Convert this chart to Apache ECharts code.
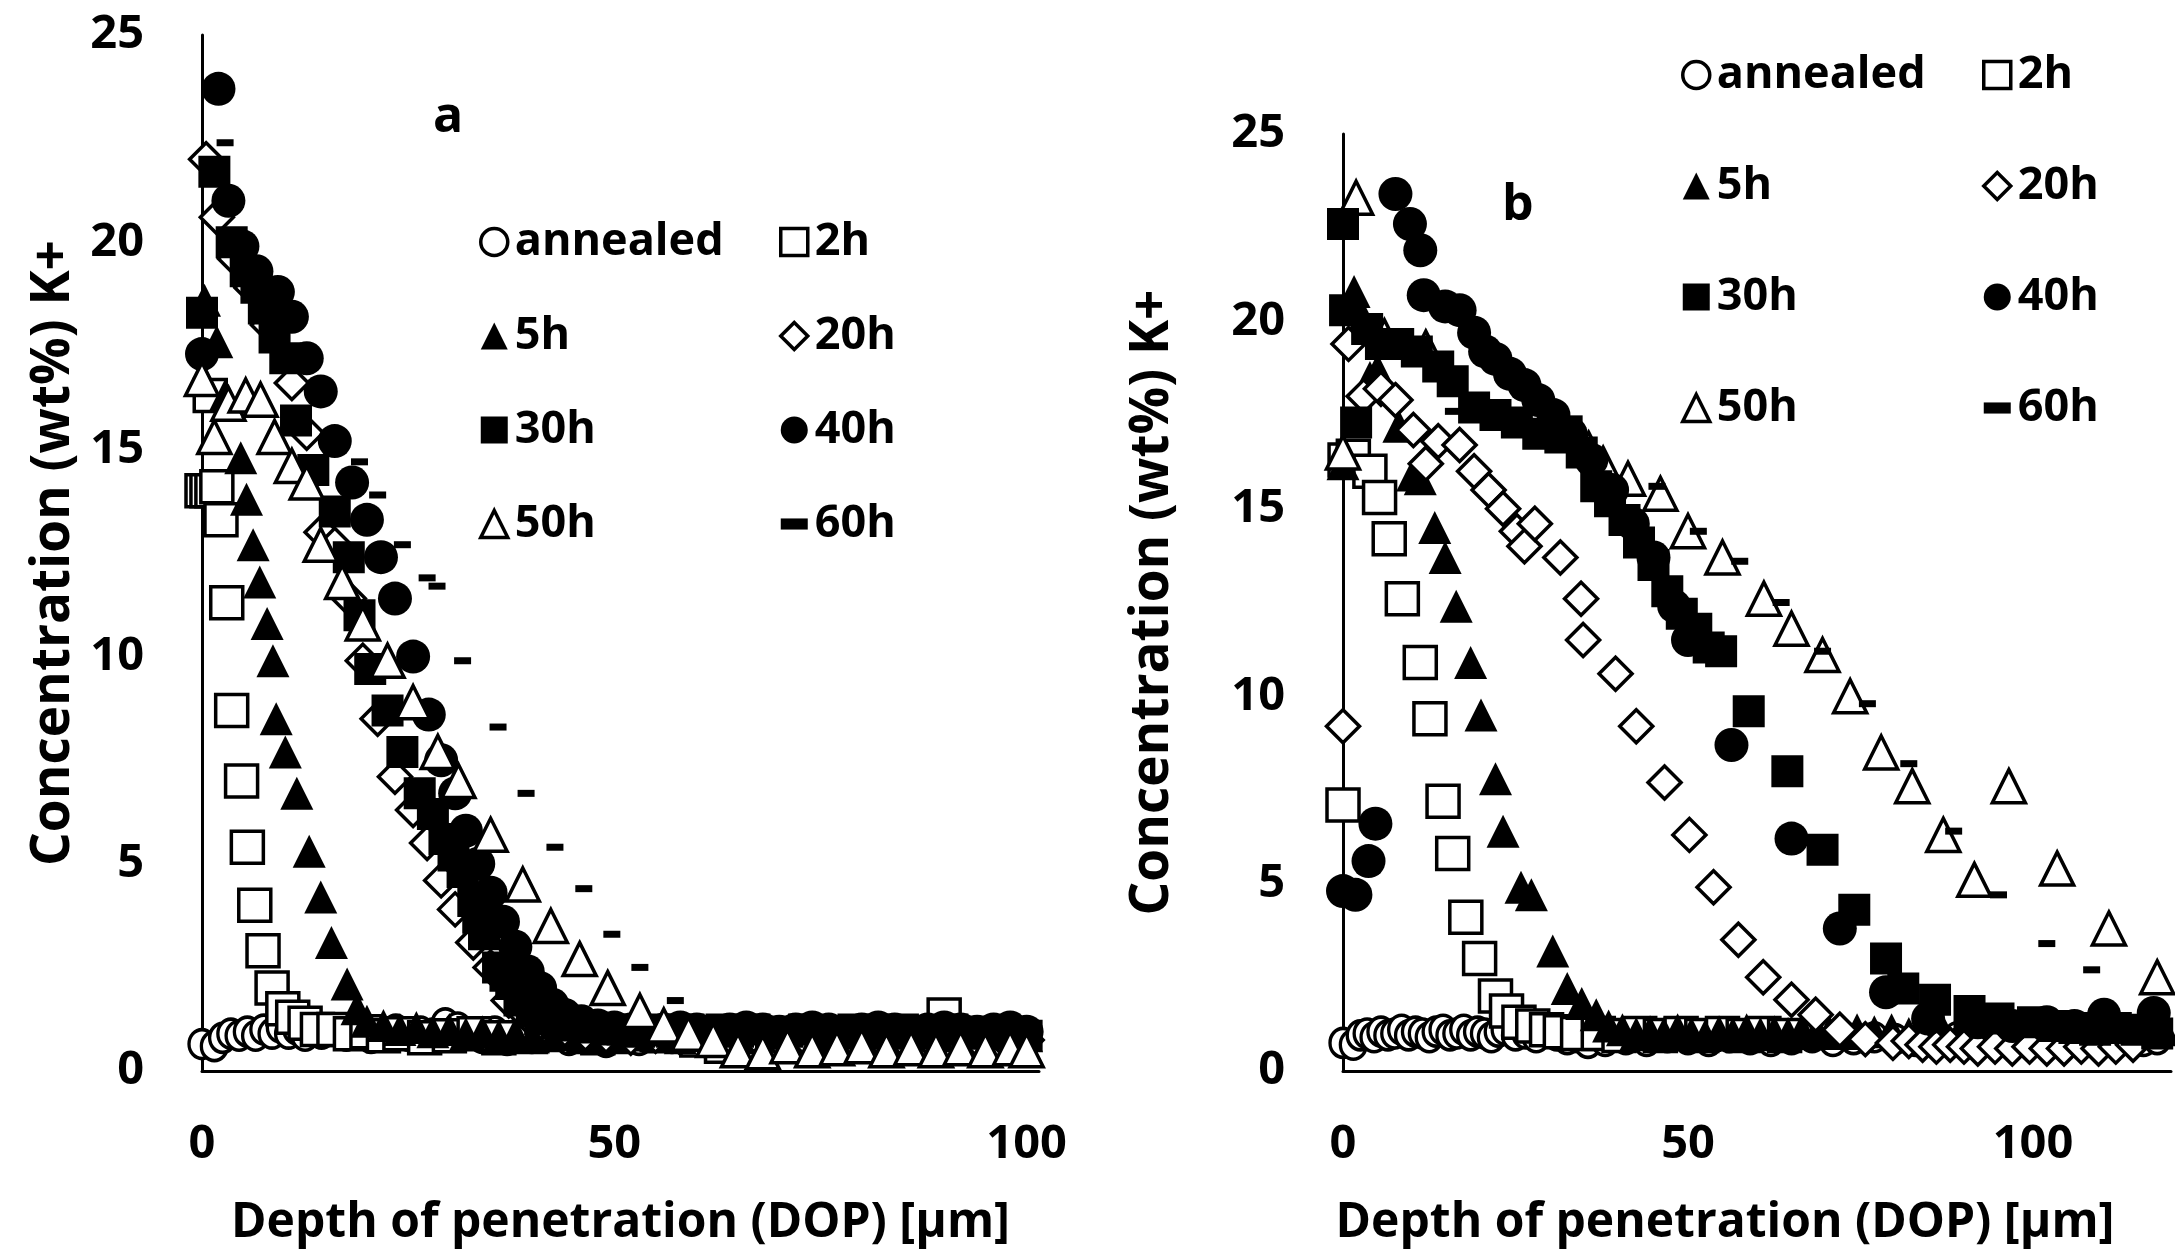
<!DOCTYPE html>
<html>
<head>
<meta charset="utf-8">
<script src="https://cdn.jsdelivr.net/npm/echarts@6/dist/echarts.min.js"></script>
<style>html,body{margin:0;padding:0;background:#fff;}#c{width:2175px;height:1259px;}</style>
</head>
<body>
<div id="c"></div>
<script>
// ---------- DATA ----------
const seriesNames = ['annealed','2h','5h','20h','30h','40h','50h','60h'];
const xTicksA = [0,50,100];
const xTicksB = [0,50,100];
const yTicks = [0,5,10,15,20,25];

// Panel a
const a_annealed = [[0,0.65],[1.5,0.6],[2.5,0.8],[3.5,0.9],[4.5,0.85],[5.5,0.95],[6.5,0.85],[7.5,1.0],[8.5,0.9],[9.5,1.05],[10.5,0.9],[11.5,1.0],[12.5,0.85],[13.5,0.95],[14.5,0.9],[16,1.0],[17.5,0.85],[19,0.95],[20.5,0.8],[22,0.9],[23.5,1.0],[25,0.85],[26.5,0.95],[28,0.9],[29.5,1.15],[31,1.05],[32.5,0.9],[34,0.8],[35.5,0.95],[37,0.75],[38.5,0.9],[40,0.8],[41.5,0.95],[43,0.85],[44.5,0.75],[46,0.9],[47.5,0.8],[49,0.7],[51,0.85],[53,0.75],[55,0.9],[57,0.8],[59,0.95],[61,0.7],[63,0.85],[65,0.9],[67,0.75],[69,0.85],[71,0.9],[73,0.7],[75,0.85],[77,0.9],[79,0.75],[81,0.85],[83,0.9],[85,0.8],[87,0.95],[89,0.75],[91,0.85],[93,0.9],[95,0.8],[97,0.85],[99,0.75],[100,0.7]];
const a_2h = [[0,14.0],[0.6,14.0],[1.2,14.0],[1.8,14.1],[1.0,16.3],[2.3,13.3],[3.0,11.3],[3.6,8.7],[4.8,7.0],[5.5,5.4],[6.4,4.0],[7.4,2.9],[8.5,2.0],[9.8,1.5],[11,1.3],[12.5,1.15],[14,1.0],[16,1.0],[18,0.9],[20,0.95],[22,0.85],[24,0.9],[27,0.8],[30,0.85],[33,0.9],[36,0.8],[40,0.85],[44,0.9],[48,0.8],[52,0.9],[56,0.85],[60,0.75],[63,0.6],[66,0.55],[69,0.65],[72,0.7],[75,0.6],[78,0.75],[81,0.65],[84,0.7],[87,0.6],[90,1.35],[93,0.7],[96,0.65],[99,0.6]];
const a_5h = [[0.3,18.6],[1.8,17.6],[2.8,16.3],[4.7,14.8],[5.4,13.8],[6.2,12.7],[7.0,11.8],[7.9,10.8],[8.6,9.9],[9.0,8.5],[10.1,7.7],[11.5,6.7],[13.0,5.3],[14.4,4.2],[15.7,3.1],[17.6,2.1],[18.8,1.5],[20,1.2],[22,1.1],[24,1.0],[26,1.05],[28,0.95],[30,1.0],[32,0.9],[34,0.95],[36,0.85],[38,0.9],[40,0.8],[42,0.85],[44,0.9],[46,0.8],[48,0.85],[50,0.8],[52,0.9],[55,0.85],[58,0.8],[61,0.9],[64,0.85],[67,0.8],[70,0.9],[73,0.85],[76,0.8],[79,0.9],[82,0.85],[85,0.8],[88,0.9],[91,0.85],[94,0.8],[97,0.9],[100,0.85]];
const a_20h = [[0.5,22.0],[1.8,20.6],[4,19.6],[6,18.9],[8,18.0],[10.9,16.6],[12.7,15.4],[14.5,13.0],[16.1,12.7],[17.8,11.4],[19.5,9.9],[21.3,8.5],[23.4,7.1],[25.6,6.3],[27.3,5.5],[29,4.6],[30.7,3.9],[32.9,3.1],[35,2.5],[37.2,1.7],[39.3,1.35],[41.5,1.1],[44,1.0],[46.5,0.9],[49,0.85],[52,0.8],[55,0.85],[58,0.8],[61,0.75],[64,0.8],[67,0.85],[70,0.75],[73,0.8],[76,0.85],[79,0.75],[82,0.8],[85,0.75],[88,0.8],[91,0.85],[94,0.75],[97,0.8],[100,0.75]];
const a_30h = [[0,18.3],[1.5,21.7],[3.6,20.0],[5.3,19.3],[6.6,18.9],[7.5,18.4],[8.8,17.7],[10.1,17.2],[11.4,15.7],[13.5,14.5],[16.1,13.5],[17.8,12.4],[19.1,11.0],[20.4,9.7],[22.5,8.7],[24.3,7.7],[26.4,6.7],[28,6.2],[29.4,5.6],[30.5,5.2],[31.6,4.8],[32.9,4.1],[33.5,3.7],[34.2,3.3],[35.9,2.5],[36.8,2.3],[37.5,2.1],[38.5,1.7],[40,1.45],[41,1.25],[43,1.15],[45,1.1],[47,1.05],[49,1.0],[51,1.0],[53,0.95],[55,1.0],[57,0.95],[59,1.0],[61,0.95],[63,1.0],[65,0.95],[67,1.0],[69,0.9],[71,0.95],[73,1.0],[75,0.95],[77,0.9],[79,1.0],[81,0.95],[83,0.9],[85,1.0],[87,0.95],[89,0.9],[91,1.0],[93,0.95],[95,0.9],[97,0.95],[99,0.9],[100,0.85]];
const a_40h = [[0,17.3],[2,23.7],[3.2,21.0],[4.9,19.9],[6.6,19.3],[9.2,18.8],[10.9,18.2],[12.7,17.2],[14.4,16.4],[16.1,15.2],[18.2,14.2],[20,13.3],[21.7,12.4],[23.4,11.4],[25.6,10.0],[27.5,8.6],[29,7.5],[30.7,6.7],[32,5.8],[33.5,5.0],[35,4.3],[36.5,3.6],[38,3.0],[39.5,2.4],[41,2.0],[42.5,1.6],[44,1.35],[46,1.2],[48,1.1],[50,1.05],[52,1.0],[54,0.95],[56,1.0],[58,1.05],[60,1.0],[62,0.95],[64,1.0],[66,1.05],[68,1.0],[70,0.95],[72,1.0],[74,1.05],[76,1.0],[78,0.95],[80,1.0],[82,1.05],[84,1.0],[86,0.95],[88,1.0],[90,1.05],[92,1.0],[94,0.95],[96,1.0],[98,1.05],[100,0.95]];
const a_50h = [[0,16.7],[1.5,15.3],[3.2,16.1],[5.3,16.3],[7.1,16.2],[8.8,15.3],[10.9,14.6],[12.7,14.2],[14.4,12.7],[17,11.8],[19.5,10.8],[22.5,9.9],[25.6,8.9],[28.6,7.7],[31.1,7.0],[35,5.7],[38.9,4.5],[42.3,3.5],[45.8,2.7],[49.2,2.0],[53.1,1.45],[56,1.1],[59,0.9],[62,0.75],[65,0.5],[68,0.45],[71,0.6],[74,0.5],[77,0.55],[80,0.6],[83,0.5],[86,0.55],[89,0.5],[92,0.55],[95,0.5],[98,0.55],[100,0.5]];
const a_60h = [[2.8,22.4],[19.1,14.7],[21.3,13.9],[24.3,12.7],[27.3,11.9],[28.5,11.7],[31.6,9.9],[35.9,8.3],[39.3,6.7],[42.8,5.4],[46.3,4.4],[49.7,3.3],[53.1,2.5],[57.4,1.7],[61,1.2],[65,1.15],[69,1.1],[73,1.2],[77,1.1],[81,1.15],[85,1.2],[89,1.1],[93,1.15],[97,1.1],[100,1.05]];

// Panel b
const b_annealed = [[0,0.75],[1.5,0.7],[2.5,0.95],[3.5,1.0],[4.5,0.9],[5.5,1.05],[6.5,0.95],[7.5,1.0],[8.5,1.1],[9.5,0.95],[10.5,1.05],[11.5,1.0],[12.5,0.9],[13.5,1.05],[14.5,1.1],[15.5,0.95],[16.5,1.0],[17.5,1.1],[18.5,0.95],[19.5,1.05],[20.5,1.0],[21.5,0.9],[22.5,1.05],[23.5,1.1],[25,0.95],[26.5,1.0],[28,0.9],[29.5,1.05],[31,0.95],[32.5,0.85],[34,0.9],[35.5,0.75],[38,0.8],[41,0.85],[44,0.8],[47,0.9],[50,0.85],[53,0.8],[56,0.9],[59,0.85],[62,0.8],[65,0.85],[68,0.9],[71,0.8],[74,0.85],[77,0.9],[80,0.85],[83,0.8],[86,0.85],[89,0.9],[92,0.8],[95,0.85],[98,0.8],[101,0.85],[104,0.8],[107,0.85],[110,0.8],[113,0.85],[116,0.8],[118,0.85]];
const b_2h = [[0,7.1],[0.3,16.3],[1.5,16.4],[3.9,16.0],[5.3,15.3],[6.7,14.2],[8.6,12.6],[11.2,10.9],[12.6,9.4],[14.5,7.2],[15.9,5.8],[17.8,4.1],[19.8,3.0],[22.1,2.0],[23.7,1.6],[25.5,1.3],[27.5,1.2],[29.5,1.1],[31.5,1.05],[34,1.0],[37,1.0],[40,0.95],[43,1.0],[46,0.95],[49,1.0],[52,0.95],[55,1.0],[58,0.95],[61,1.0],[64,0.95]];
const b_5h = [[0,16.2],[1.6,20.8],[2.9,20.1],[3.9,18.5],[5,18.7],[8.1,17.2],[10.1,15.9],[11.2,15.8],[13.3,14.5],[14.8,13.7],[16.4,12.4],[18.5,10.9],[20.0,9.5],[22.1,7.8],[23.2,6.4],[25.8,4.9],[27.3,4.7],[30.4,3.2],[32.5,2.2],[34.6,1.8],[36.7,1.5],[38.5,1.2],[40.5,1.1],[42.5,1.0],[44.5,1.05],[46.5,1.0],[48.5,1.1],[50.5,1.0],[52.5,0.95],[54.5,1.05],[56.5,1.0],[58.5,1.1],[60.5,1.0],[62.5,1.05],[64.5,1.0],[66.5,1.1],[68.5,1.0],[70.5,1.05],[72.5,1.0],[74.5,1.1],[77,1.05],[79.5,1.1],[82,1.0],[84.5,1.1],[87,1.05],[89.5,1.1],[92,1.0],[94.5,1.05],[97,1.1],[99.5,1.0],[102,1.05],[104.5,1.1],[107,1.0],[109.5,1.05],[112,1.1],[114.5,1.0],[117,1.05],[119,1.1]];
const b_20h = [[0,9.2],[0.8,19.4],[3,18.0],[5.5,18.2],[7.6,17.9],[10.2,17.1],[12,16.2],[13.8,16.8],[16.9,16.7],[19,16.0],[21.1,15.5],[23.2,15.0],[25.2,14.4],[26.3,14.0],[27.8,14.6],[31.5,13.7],[34.5,12.6],[34.8,11.5],[39.5,10.6],[42.5,9.2],[46.6,7.7],[50.2,6.3],[53.7,4.9],[57.3,3.5],[60.9,2.5],[65,1.9],[68.5,1.5],[72,1.1],[75.7,0.85],[79.7,0.75],[82,0.8],[84,0.7],[86,0.65],[88,0.7],[90,0.65],[92,0.6],[94.5,0.65],[97,0.6],[99.5,0.65],[102,0.6],[104.5,0.6],[107,0.65],[109.5,0.6],[112,0.65],[114.5,0.7]];
const b_30h = [[0,22.6],[0.3,20.3],[1.9,17.3],[3.5,19.8],[5.5,19.4],[8,19.4],[10.7,19.2],[13.8,18.8],[15.9,18.4],[19,17.7],[22.1,17.5],[25.2,17.3],[28.3,17.0],[31.5,16.9],[34.6,16.5],[36.7,15.6],[38.7,15.2],[40.8,14.7],[42.9,14.1],[45,13.5],[47,12.8],[49.1,12.2],[51.2,11.8],[53,11.3],[54.8,11.2],[58.8,9.6],[64.4,8.0],[69.5,5.9],[74.1,4.3],[78.7,3.0],[81.2,2.2],[85.8,1.9],[90.8,1.6],[95,1.4],[100,1.3],[103,1.2],[106,1.15],[109,1.1],[112,1.15],[115,1.1],[118,1.0]];
const b_40h = [[0,4.8],[1.8,4.7],[3.7,5.6],[4.7,6.6],[7.6,23.4],[9.7,22.6],[11.2,21.9],[11.7,20.7],[14.8,20.4],[16.9,20.3],[19,19.7],[20.6,19.2],[22.1,19.0],[24.2,18.6],[26.3,18.3],[28.3,17.9],[30.5,17.5],[33,17.0],[36,16.3],[39,15.5],[42,14.6],[45,13.7],[48,12.4],[50,11.5],[56.3,8.7],[65,6.2],[72,3.8],[78.7,2.1],[84.8,1.4],[92,1.3],[97,1.2],[102,1.3],[106,1.2],[110.3,1.5],[117.5,1.55]];
const b_50h = [[0,16.5],[1.9,23.3],[6,19.6],[12,19.3],[35.6,16.6],[37.7,16.2],[41.3,15.8],[46,15.4],[50,14.4],[55,13.7],[61,12.6],[65,11.8],[69.5,11.1],[73.5,10.0],[78,8.5],[82.5,7.6],[87,6.3],[91.5,5.1],[96.5,7.6],[103.5,5.4],[111,3.8],[118,2.5]];
const b_60h = [[16,17.6],[33.5,17.4],[45.5,15.6],[51.5,14.4],[57.5,13.6],[63.5,12.5],[69.5,11.2],[76,9.8],[82,8.2],[88.5,6.4],[95,4.7],[102,3.4],[108.5,2.7]];

// ---------- CHART ----------
const FONT = "'Open Sans', 'DejaVu Sans', sans-serif";
const styles = {
  'annealed': {symbol:'circle', size:[26,29], open:true},
  '2h': {symbol:'rect', size:32, open:true},
  '5h': {symbol:'triangle', size:33, open:false},
  '20h': {symbol:'diamond', size:33, open:true},
  '30h': {symbol:'rect', size:32, open:false},
  '40h': {symbol:'circle', size:34, open:false},
  '50h': {symbol:'triangle', size:33, open:true},
  '60h': {symbol:'rect', size:[17,7], open:false}
};
const dataA = {'annealed':a_annealed,'2h':a_2h,'5h':a_5h,'20h':a_20h,'30h':a_30h,'40h':a_40h,'50h':a_50h,'60h':a_60h};
const dataB = {'annealed':b_annealed,'2h':b_2h,'5h':b_5h,'20h':b_20h,'30h':b_30h,'40h':b_40h,'50h':b_50h,'60h':b_60h};
const orderA = ['annealed','2h','5h','20h','30h','40h','50h','60h'];
const orderB = ['annealed','2h','5h','20h','50h','30h','40h','60h'];

function mkSeries(name, data, idx) {
  const st = styles[name];
  return {
    type:'scatter', name, data, xAxisIndex:idx, yAxisIndex:idx, clip:false,
    symbol:st.symbol, symbolSize:st.size,
    itemStyle: st.open ? {color:'#fff', borderColor:'#000', borderWidth:3.5, opacity:1} : {color:'#000', borderWidth:0, opacity:1},
    emphasis:{disabled:true}
  };
}
const series = [];
orderA.forEach(n => series.push(mkSeries(n, dataA[n], 0)));
orderB.forEach(n => series.push(mkSeries(n, dataB[n], 1)));

function legendItem(n) {
  const st = styles[n];
  const it = {name:n};
  if (n === '60h') it.icon = 'path://M0,0H17V7H0Z';
  else it.icon = st.symbol;
  it.itemStyle = st.open ? {color:'#fff', borderColor:'#000', borderWidth:3.5, opacity:1} : {color:'#000', borderWidth:0, opacity:1};
  return it;
}
function mkLegend(names, left, top, gap) {
  return {
    orient:'vertical', left, top, itemGap:gap, itemWidth:27, itemHeight:27,
    selectedMode:false,
    textStyle:{fontFamily:FONT, fontSize:45, fontWeight:'bold', color:'#000', lineHeight:50, padding:[0,0,0,2]},
    data: names.map(legendItem)
  };
}

const axisFont = {fontFamily:FONT, fontSize:47, fontWeight:'bold', color:'#000'};
function xAxis(idx, max, ticks, namePad) {
  return {
    type:'value', gridIndex:idx, min:0, max, interval:50,
    axisLine:{show:true, onZero:false, lineStyle:{color:'#000', width:3}},
    axisTick:{show:false}, splitLine:{show:false},
    axisLabel:{...axisFont, margin:50, formatter: v => ticks.includes(v) ? String(v) : '', showMaxLabel:true},
    name:'Depth of penetration (DOP) [µm]', nameLocation:'middle', nameGap:128,
    nameTextStyle:{fontFamily:FONT, fontSize:48, fontWeight:'bold', color:'#000', padding:namePad}
  };
}
function yAxis(idx, gap) {
  return {
    type:'value', gridIndex:idx, min:0, max:25, interval:5,
    axisLine:{show:true, onZero:false, lineStyle:{color:'#000', width:3}},
    axisTick:{show:false}, splitLine:{show:false},
    axisLabel:{...axisFont, margin:58, formatter: v => yTicks.includes(v) ? String(v) : ''},
    name:'Concentration (wt%) K+', nameLocation:'middle', nameGap:gap,
    nameTextStyle:{fontFamily:FONT, fontSize:53, fontWeight:'bold', color:'#000'}
  };
}

const option = {
  backgroundColor:'#fff',
  animation:false,
  title:[
    {text:'a', left:428, top:88, textStyle:{fontFamily:FONT, fontSize:50, fontWeight:'bold', color:'#000'}},
    {text:'b', left:1497, top:176, textStyle:{fontFamily:FONT, fontSize:50, fontWeight:'bold', color:'#000'}}
  ],
  grid:[
    {left:202, top:35, width:837, height:1036},
    {left:1343, top:134, width:828, height:937}
  ],
  xAxis:[xAxis(0, 101.5, xTicksA, [0,0,0,0]), xAxis(1, 120, xTicksB, [0,64,0,0])],
  yAxis:[yAxis(0, 122), yAxis(1, 164)],
  legend:[
    mkLegend(['annealed','5h','30h','50h'], 474, 212, 44),
    mkLegend(['2h','20h','40h','60h'], 774, 212, 44),
    mkLegend(['annealed','5h','30h','50h'], 1676, 45, 61),
    mkLegend(['2h','20h','40h','60h'], 1977, 45, 61)
  ],
  series
};
const chart = echarts.init(document.getElementById('c'), null, {renderer:'canvas'});
chart.setOption(option);
</script>
</body>
</html>
